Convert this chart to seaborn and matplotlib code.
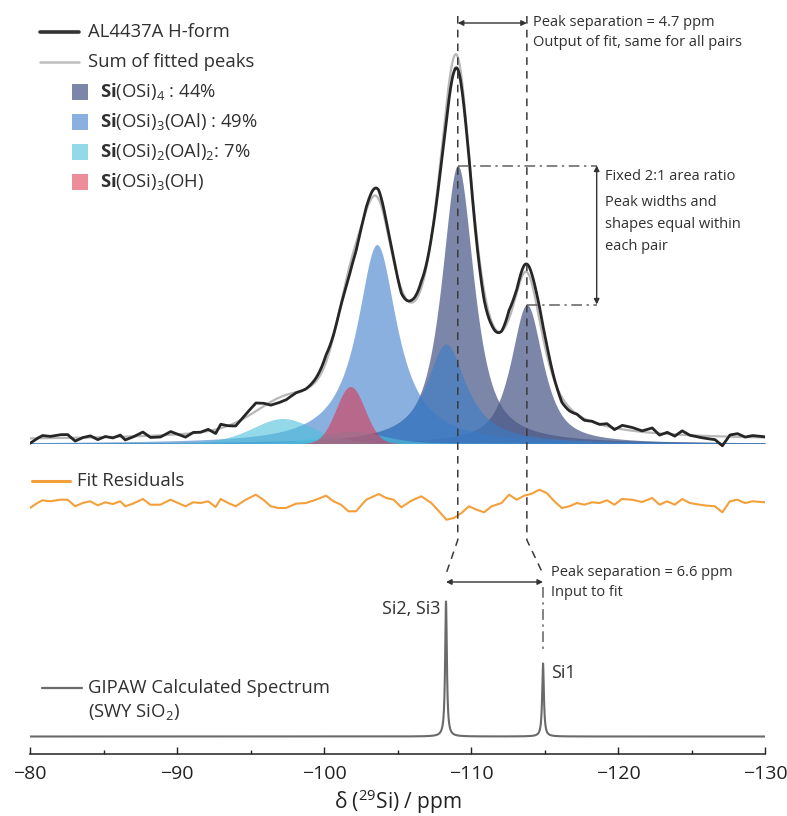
import numpy as np
import pandas as pd
import matplotlib
matplotlib.use("Agg")
import matplotlib.pyplot as plt
import seaborn as sns

# ---------------- fitted components (pseudo-Voigt lines) ----------------
# species, position / ppm, height, FWHM / ppm, Lorentzian fraction
comp_species = ["Q4", "Q4", "Q3", "Q3", "Q2", "Q2", "OH"]
comp_center = [-109.1, -113.8, -103.6, -108.3, -97.2, -101.9, -101.8]
comp_height = [278.0, 139.0, 199.0, 99.5, 25.0, 12.5, 57.0]
comp_fwhm = [2.6, 2.6, 3.3, 3.3, 5.0, 5.0, 2.3]
comp_eta = [0.8, 0.8, 1.0, 1.0, 0.3, 0.3, 0.0]
fit_baseline = 3.0

species_order = ["Q4", "Q3", "Q2", "OH"]
species_labels = [
    r"$\mathbf{Si}\mathrm{(OSi)}_4$ : 44%",
    r"$\mathbf{Si}\mathrm{(OSi)}_3\mathrm{(OAl)}$ : 49%",
    r"$\mathbf{Si}\mathrm{(OSi)}_2\mathrm{(OAl)}_2$: 7%",
    r"$\mathbf{Si}\mathrm{(OSi)}_3\mathrm{(OH)}$",
]
species_colors = ["#4a5a88", "#3a7cc8", "#4cc0dc", "#e03048"]
species_alpha = [0.73, 0.60, 0.60, 0.55]

# ---------------- fit residuals (experiment - fit) ----------------
res_ppm = [-80.0, -80.5, -80.85, -81.37, -82.05, -82.56, -83.07, -83.58, -84.10, -84.61,
           -85.12, -85.63, -86.14, -86.48, -86.99, -87.68, -88.19, -88.87, -89.56, -90.07,
           -90.58, -91.09, -91.60, -92.12, -92.63, -92.97, -93.48, -93.99, -94.68, -95.36,
           -95.87, -96.38, -96.89, -97.41, -98.09, -98.77, -99.45, -100.14, -100.65, -101.16,
           -101.67, -102.18, -102.87, -103.72, -104.23, -104.74, -105.26, -105.94, -106.62, -107.30,
           -107.82, -108.33, -108.84, -109.35, -109.86, -110.38, -110.89, -111.40, -112.08, -112.59,
           -113.11, -113.62, -114.13, -114.64, -115.15, -115.67, -116.18, -116.69, -117.20, -117.71,
           -118.23, -118.74, -119.25, -119.76, -120.27, -120.96, -121.64, -122.32, -122.83, -123.34,
           -123.86, -124.37, -124.88, -125.56, -126.08, -126.59, -127.10, -127.61, -128.12, -128.64,
           -129.15, -130.0]
res_val = [-5.0, 0.0, 2.7, 1.7, 3.3, 3.3, -3.3, 0.0, 1.7, -2.3,
           0.7, -1.0, 1.7, -3.3, -0.7, 4.0, -1.7, -1.7, 3.3, 0.0,
           -3.3, 0.7, 0.0, 1.7, -4.0, 4.0, 0.0, -3.3, 3.3, 8.3,
           3.3, -3.3, -5.0, -5.0, -0.7, 0.0, 3.3, 7.3, 1.7, -1.7,
           -8.3, -8.3, 3.3, 9.0, 5.0, 3.3, -4.3, 2.3, 6.7, 0.0,
           -8.3, -16.7, -15.0, -10.0, -3.3, -6.7, -9.3, -3.3, 0.0, 8.3,
           3.3, 7.3, 9.3, 13.3, 10.0, 1.7, -5.0, -3.3, 0.0, -1.7,
           0.7, 0.0, 2.7, -1.7, 4.0, 3.3, 1.0, 5.0, -1.7, 1.7,
           -1.7, 4.0, 0.0, -1.7, -2.7, -3.3, -9.3, 1.7, 3.3, 0.0,
           1.7, 0.7]

# ---------------- GIPAW calculated lines ----------------
calc_center = [-108.3, -114.9]
calc_height = [135.0, 73.0]
calc_fwhm = 0.14
calc_labels = ["Si2, Si3", "Si1"]

# vertical placement of the stacked traces
DATA_OFF, RES_OFF, CALC_OFF = 310.5, 251.0, 17.5


def pvoigt(x, c, h, w, eta):
    d = (x - c) / (w / 2.0)
    return h * (eta / (1.0 + d ** 2) + (1.0 - eta) * np.exp(-np.log(2.0) * d ** 2))


ppm = np.linspace(-80, -130, 5001)
comps = [pvoigt(ppm, c, h, w, e) for c, h, w, e in
         zip(comp_center, comp_height, comp_fwhm, comp_eta)]
fit_sum = fit_baseline + np.sum(comps, axis=0)
residual_on_grid = np.interp(ppm, res_ppm[::-1], res_val[::-1])
experiment = fit_sum + residual_on_grid
calc = np.sum([pvoigt(ppm, c, h, calc_fwhm, 1.0) for c, h in zip(calc_center, calc_height)], axis=0)

df = pd.DataFrame({"ppm": ppm, "exp": experiment + DATA_OFF,
                   "fit": fit_sum + DATA_OFF, "calc": calc + CALC_OFF})
df_res = pd.DataFrame({"ppm": res_ppm, "res": np.array(res_val) + RES_OFF})

# ---------------- style ----------------
sns.set_theme(style="white")
FONT = ["Open Sans", "DejaVu Sans"]
plt.rcParams["font.family"] = FONT
plt.rcParams["mathtext.fontset"] = "custom"
plt.rcParams["mathtext.rm"] = "Open Sans"
plt.rcParams["mathtext.it"] = "Open Sans:italic"
plt.rcParams["mathtext.bf"] = "Open Sans:bold"
TXT = "#303030"

W, H = 787, 816
fig = plt.figure(figsize=(W / 100, H / 100), dpi=100)
ax = fig.add_axes([30 / W, (H - 754) / H, 735 / W, 754 / H])
ax.set_xlim(-80, -130)
ax.set_ylim(0, 754)

# fitted component fills
for sp, col, al in zip(species_order, species_colors, species_alpha):
    for k, s in enumerate(comp_species):
        if s == sp:
            ax.fill_between(ppm, DATA_OFF, DATA_OFF + comps[k], color=col, alpha=al, lw=0, zorder=1)

sns.lineplot(data=df, x="ppm", y="fit", ax=ax, color="#b8b8b8", lw=1.6, sort=False, estimator=None, zorder=2)
sns.lineplot(data=df, x="ppm", y="exp", ax=ax, color="#262626", lw=2.0, sort=False, estimator=None, zorder=3)
sns.lineplot(data=df_res, x="ppm", y="res", ax=ax, color="#f3a03a", lw=1.5, sort=False, estimator=None, zorder=3)
sns.lineplot(data=df, x="ppm", y="calc", ax=ax, color="#6a6a6a", lw=1.5, sort=False, estimator=None, zorder=3)

# ---------------- axis ----------------
for s in ["left", "right", "top"]:
    ax.spines[s].set_visible(False)
ax.spines["bottom"].set_color("#222222")
ax.spines["bottom"].set_linewidth(1.1)
ax.set_yticks([])
ax.set_xticks(np.arange(-80, -131, -10))
ax.set_xticks(np.arange(-85, -130, -10), minor=True)
ax.tick_params(axis="x", which="major", direction="in", length=5, width=1.0, color="#222222",
               labelsize=14, labelcolor="#222222", pad=8, bottom=True)
ax.tick_params(axis="x", which="minor", direction="in", length=3, width=1.0, color="#222222", bottom=True)
ax.set_xlabel(r"δ ($^{29}$Si) / ppm", fontsize=15, color="#222222", labelpad=3)
ax.set_ylabel("")
if ax.get_legend():
    ax.get_legend().remove()

# ---------------- annotations ----------------
dash_kw = dict(color="#3a3a3a", lw=1.1, ls=(0, (5, 4)), zorder=4)
dd_kw = dict(color="#606060", lw=1.1, ls=(0, (7, 3, 1.5, 3)), zorder=4)
arrow_kw = dict(arrowstyle="<|-|>", color="#333333", lw=1.0, shrinkA=0, shrinkB=0, mutation_scale=8)

qa, qb = comp_center[0], comp_center[1]
ca, cb = calc_center
ax.plot([qa, qa, ca], [738, 214, 180], **dash_kw)
ax.plot([qb, qb, cb], [738, 214, 180], **dash_kw)
ax.plot([cb, cb], [167, 102], **dd_kw)

ax.annotate("", xy=(qa, 731), xytext=(qb, 731), arrowprops=arrow_kw, zorder=5)
ax.annotate("", xy=(ca, 172), xytext=(cb, 172), arrowprops=arrow_kw, zorder=5)

x_bar = -118.55
top_a = DATA_OFF + comp_height[0]
top_b = DATA_OFF + comp_height[1]
ax.plot([qa, x_bar], [top_a, top_a], **dd_kw)
ax.plot([qb, x_bar], [top_b, top_b], **dd_kw)
ax.annotate("", xy=(x_bar, top_a), xytext=(x_bar, top_b), arrowprops=arrow_kw, zorder=5)

fs_note = 10.5
ax.text(-114.2, 731, "Peak separation = 4.7 ppm", fontsize=fs_note, color=TXT, va="center")
ax.text(-114.2, 711, "Output of fit, same for all pairs", fontsize=fs_note, color=TXT, va="center")
ax.text(-119.1, 578, "Fixed 2:1 area ratio", fontsize=fs_note, color=TXT, va="center")
ax.text(-119.1, 551, "Peak widths and", fontsize=fs_note, color=TXT, va="center")
ax.text(-119.1, 529, "shapes equal within", fontsize=fs_note, color=TXT, va="center")
ax.text(-119.1, 508, "each pair", fontsize=fs_note, color=TXT, va="center")
ax.text(-115.45, 181, "Peak separation = 6.6 ppm", fontsize=fs_note, color=TXT, va="center")
ax.text(-115.45, 161, "Input to fit", fontsize=fs_note, color=TXT, va="center")

ax.text(-107.95, CALC_OFF + calc_height[0] - 8, calc_labels[0], fontsize=13, color=TXT,
        va="center", ha="right")
ax.text(-115.45, CALC_OFF + calc_height[1] - 10, calc_labels[1], fontsize=13, color=TXT,
        va="center", ha="left")

# ---------------- legend-style keys (figure pixel coordinates) ----------------
def fxy(px, py):
    return px / W, 1 - py / H

fs_leg = 13.3
for py, col, lw, label in [(32, "#333333", 2.6, "AL4437A H-form"),
                           (62, "#bdbdbd", 1.8, "Sum of fitted peaks")]:
    (x0, y0), (x1, _) = fxy(40, py), fxy(79, py)
    fig.add_artist(plt.Line2D([x0, x1], [y0, y0], color=col, lw=lw, transform=fig.transFigure))
    fig.text(*fxy(88, py), label, fontsize=fs_leg, color=TXT, va="center")

for i, (col, al, label) in enumerate(zip(species_colors, species_alpha, species_labels)):
    py = 92 + 30 * i
    x0, y0 = fxy(72, py + 8)
    fig.add_artist(plt.Rectangle((x0, y0), 16 / W, 16 / H, color=col, alpha=al, lw=0,
                                 transform=fig.transFigure))
    fig.text(*fxy(100, py), label, fontsize=fs_leg, color=TXT, va="center")

(x0, y0), (x1, _) = fxy(32, 481), fxy(70, 481)
fig.add_artist(plt.Line2D([x0, x1], [y0, y0], color="#f3a03a", lw=2.2, transform=fig.transFigure))
fig.text(*fxy(77, 481), "Fit Residuals", fontsize=fs_leg, color=TXT, va="center")

(x0, y0), (x1, _) = fxy(42, 688), fxy(82, 688)
fig.add_artist(plt.Line2D([x0, x1], [y0, y0], color="#6a6a6a", lw=1.6, transform=fig.transFigure))
fig.text(*fxy(88, 688), "GIPAW Calculated Spectrum", fontsize=fs_leg, color=TXT, va="center")
fig.text(*fxy(88, 712), r"(SWY SiO$_2$)", fontsize=fs_leg, color=TXT, va="center")

fig.savefig("out.png", dpi=100)
